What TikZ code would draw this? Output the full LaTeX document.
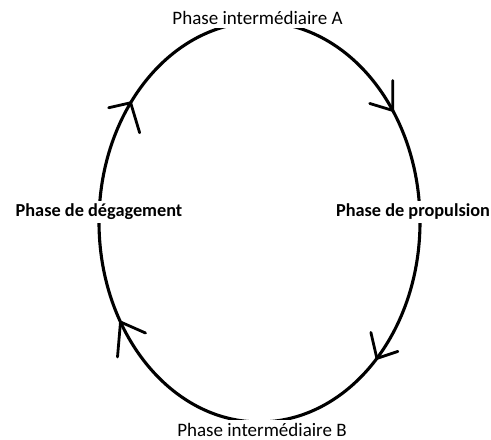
\documentclass[tikz,border=0pt]{standalone}
\usepackage{fontspec}
\setmainfont{Carlito}
\usetikzlibrary{calc}
\begin{document}
\begin{tikzpicture}[x=1pt,y=1pt,
  cyc/.style={line width=3.1pt},
  barb/.style={line width=2.8pt, line cap=round, line join=round},
  lab/.style={fill=white, inner sep=3pt, text=black, font=\fontsize{19}{22}\selectfont, anchor=base},
  blab/.style={lab, font=\fontsize{18.3}{22}\selectfont\bfseries}]
\useasboundingbox (0,0) rectangle (491,440);
\coordinate (c) at (259.5,218);
\draw[cyc] (c) ellipse [x radius=160.5, y radius=200];
% arrow tips on the cycle
\coordinate (t1) at ($(c)+(143.4:160.5 and 200)$);
\coordinate (t2) at ($(c)+(33.9:160.5 and 200)$);
\coordinate (t3) at ($(c)+(-43:160.5 and 200)$);
\coordinate (t4) at ($(c)+(210:160.5 and 200)$);
\draw[barb] ($(t1)+(-22,-5)$) -- (t1) -- ($(t1)+(9,-30)$);
\draw[barb] ($(t2)+(0,30)$) -- (t2) -- ($(t2)+(-23,7)$);
\draw[barb] ($(t3)+(-6,26)$) -- (t3) -- ($(t3)+(21,7)$);
\draw[barb] ($(t4)+(-3,-35)$) -- (t4) -- ($(t4)+(25,-11)$);
% labels
\node[lab] (A) at (257.5,415) {Phase intermédiaire A};
\node[lab] (B) at (262,4) {Phase intermédiaire B};
\node[blab] (D) at (99,223) {Phase de dégagement};
\node[blab] (P) at (413,223) {Phase de propulsion};
\end{tikzpicture}
\end{document}
